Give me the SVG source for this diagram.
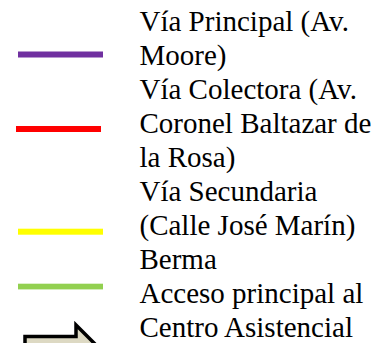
<svg xmlns="http://www.w3.org/2000/svg" width="387" height="343" viewBox="0 0 387 343">
<style>
text{font-family:"Liberation Serif",serif;font-size:29px;fill:#000}
.sw{stroke:none}
</style>
<rect width="387" height="343" fill="#fff"/>
<g id="item-principal">
<rect class="sw" x="18" y="51.5" width="85" height="6" fill="#7030A0"/>
<text x="139.5" y="31">Vía Principal (Av.</text>
<text x="139.5" y="65">Moore)</text>
</g>
<g id="item-colectora">
<rect class="sw" x="16" y="126" width="85" height="6" fill="#FF0000"/>
<text x="139.5" y="99">Vía Colectora (Av.</text>
<text x="139.5" y="133">Coronel Baltazar de</text>
<text x="139.5" y="167">la Rosa)</text>
</g>
<g id="item-secundaria">
<rect class="sw" x="18" y="228.7" width="85" height="6" fill="#FFFF00"/>
<text x="139.5" y="201">Vía Secundaria</text>
<text x="139.5" y="235">(Calle José Marín)</text>
</g>
<g id="item-berma">
<rect class="sw" x="18" y="283.7" width="85" height="5.7" fill="#92D050"/>
<text x="139.5" y="269">Berma</text>
</g>
<g id="item-acceso">
<path d="M25,336.5 L76,336.5 L76,325 L99,348 L76,371 L76,359.5 L25,359.5 Z" fill="#DDD9C3" stroke="#000" stroke-width="3.5" stroke-linejoin="miter"/>
<text x="139.5" y="303">Acceso principal al</text>
<text x="139.5" y="337">Centro Asistencial</text>
</g>
</svg>
